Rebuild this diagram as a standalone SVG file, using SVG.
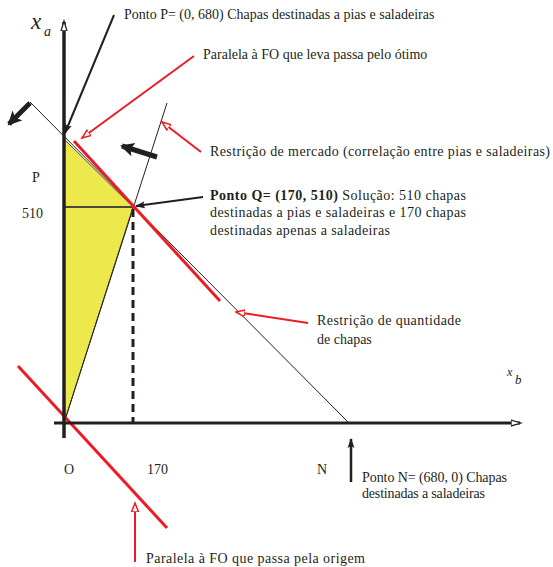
<svg xmlns="http://www.w3.org/2000/svg" width="553" height="567" viewBox="0 0 553 567">
<defs>
<style>
text{font-family:"Liberation Serif","Times New Roman",serif;font-size:14px;fill:#231f20}
.thin{stroke:#231f20;stroke-width:1;fill:none}
.red{stroke:#ed1c24;stroke-width:3;fill:none}
.redarr{stroke:#ed1c24;stroke-width:2;fill:none;marker-end:url(#ra)}
.blkarr{stroke:#231f20;stroke-width:2;fill:none;marker-end:url(#ba)}
.grad{stroke:#231f20;stroke-width:5;fill:none;marker-end:url(#ga)}
.it{font-style:italic}
</style>
<marker id="ba" markerUnits="userSpaceOnUse" markerWidth="12" markerHeight="10" refX="9" refY="4" orient="auto"><path d="M0,0.5 L10,4 L0,7.5 L2,4 Z" fill="#231f20"/></marker>
<marker id="ra" markerUnits="userSpaceOnUse" markerWidth="12" markerHeight="10" refX="9" refY="4" orient="auto"><path d="M0,0.5 L9,4 L0,7.5 Z" fill="#fff" stroke="#ed1c24" stroke-width="1.5"/></marker>
<marker id="ax" markerUnits="userSpaceOnUse" markerWidth="12" markerHeight="10" refX="9" refY="4" orient="auto"><path d="M0,1 L10,4 L0,7 Z" fill="#fff" stroke="#231f20" stroke-width="1.3"/></marker>
<marker id="ga" markerUnits="userSpaceOnUse" markerWidth="16" markerHeight="16" refX="12" refY="7" orient="auto"><path d="M0,0 L14,7 L0,14 L3,7 Z" fill="#231f20"/></marker>
</defs>
<g id="region">
<polygon points="64,139 133,207 64,423" fill="#ede84b" stroke="#3a3a2a" stroke-width="0.9"/>
<line x1="64" y1="207" x2="133" y2="207" stroke="#4a4a3a" stroke-width="1.8"/>
</g>
<g id="constraints">
<line id="qty" class="thin" x1="30" y1="102" x2="349" y2="423"/>
<line id="market" class="thin" x1="64" y1="423" x2="167" y2="103"/>
<line id="fo-opt" class="red" x1="74" y1="141" x2="220" y2="301"/>
<line id="fo-origin" class="red" x1="18" y1="366" x2="167" y2="528"/>
<line id="dash170" x1="133" y1="209" x2="133" y2="423" stroke="#231f20" stroke-width="3" stroke-dasharray="8,5"/>
</g>
<g id="axes">
<line x1="64" y1="438" x2="64" y2="22" stroke="#231f20" stroke-width="3.5" marker-end="url(#ax)"/>
<line x1="54" y1="423" x2="520" y2="423" stroke="#231f20" stroke-width="3" marker-end="url(#ax)"/>
<text x="31" y="29" class="it" style="font-size:23px">x</text>
<text x="44" y="36" class="it" style="font-size:14px">a</text>
<text x="507" y="376" class="it" style="font-size:12px">x</text>
<text x="515" y="384" class="it" style="font-size:13px">b</text>
</g>
<g id="connectors">
<line class="grad" x1="30" y1="103" x2="9" y2="124"/>
<line class="grad" x1="157" y1="157" x2="122" y2="146"/>
<line class="blkarr" x1="114" y1="15" x2="65" y2="133"/>
<line class="blkarr" x1="203" y1="197" x2="136" y2="206"/>
<line class="blkarr" x1="351" y1="482" x2="351" y2="439" style="stroke-width:2.5"/>
<line class="redarr" x1="194" y1="56" x2="82" y2="138"/>
<line class="redarr" x1="201" y1="152" x2="162" y2="122"/>
<line class="redarr" x1="308" y1="323" x2="236" y2="312"/>
<line class="redarr" x1="135" y1="562" x2="135" y2="503"/>
</g>
<g id="label-P-top"><text x="124" y="19">Ponto P= (0, 680) Chapas destinadas a pias e saladeiras</text></g>
<g id="label-fo-opt"><text x="203" y="59">Paralela à FO que leva passa pelo ótimo</text></g>
<g id="label-market"><text x="210" y="156" textLength="340" lengthAdjust="spacing">Restrição de mercado (correlação entre pias e saladeiras)</text></g>
<g id="label-Q">
<text x="210" y="200" textLength="256" lengthAdjust="spacing"><tspan font-weight="bold">Ponto Q= (170, 510)</tspan> Solução: 510 chapas</text>
<text x="210" y="217" textLength="256" lengthAdjust="spacing">destinadas a pias e saladeiras e 170 chapas</text>
<text x="210" y="235" textLength="180" lengthAdjust="spacing">destinadas apenas a saladeiras</text>
</g>
<g id="label-qty">
<text x="317" y="325" textLength="144" lengthAdjust="spacing">Restrição de quantidade</text>
<text x="317" y="344">de chapas</text>
</g>
<g id="axis-labels">
<text x="32" y="182">P</text>
<text x="22" y="218">510</text>
<text x="64" y="474">O</text>
<text x="147" y="474">170</text>
<text x="317" y="474">N</text>
</g>
<g id="label-N">
<text x="362" y="482" textLength="145" lengthAdjust="spacing">Ponto N= (680, 0) Chapas</text>
<text x="362" y="498" textLength="123" lengthAdjust="spacing">destinadas a saladeiras</text>
</g>
<g id="label-fo-origin"><text x="146" y="563" textLength="219" lengthAdjust="spacing">Paralela à FO que passa pela origem</text></g>
</svg>
